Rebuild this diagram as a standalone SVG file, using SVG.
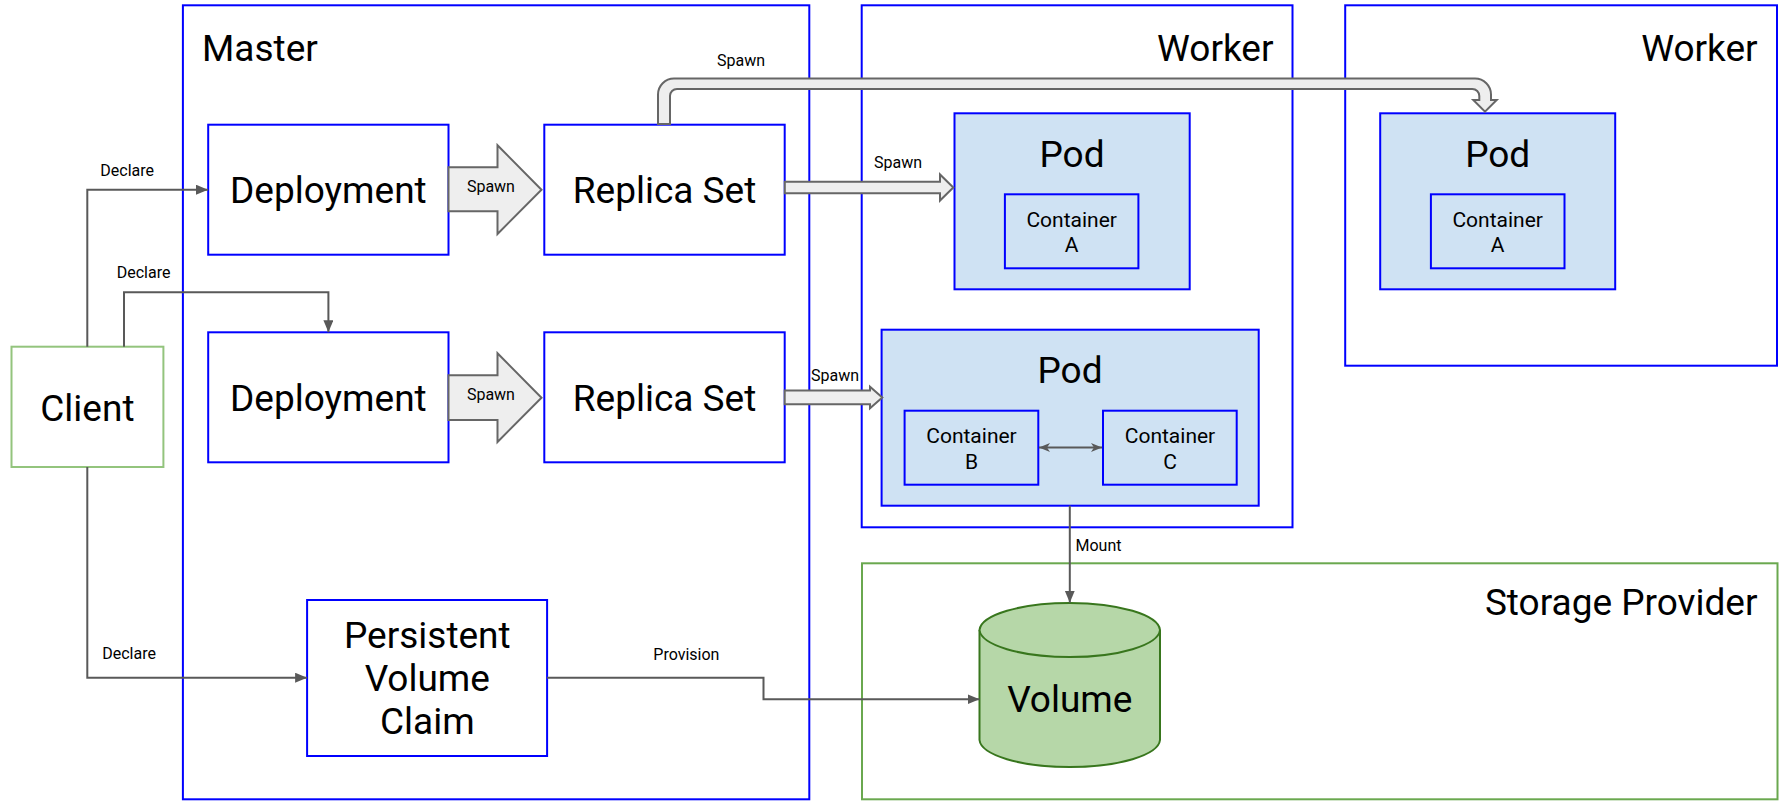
<svg xmlns="http://www.w3.org/2000/svg" width="1781" height="801" viewBox="0 0 1781 801">
<style>
text { font-family: Roboto, "Liberation Sans", sans-serif; fill: #000; }
.big { font-size: 37px; }
.mid { font-size: 21px; }
.small { font-size: 16px; }
.c { text-anchor: middle; }
.e { text-anchor: end; }
.box { fill: #fff; stroke: #0000ff; stroke-width: 2; }
.area { fill: none; stroke: #0000ff; stroke-width: 2; }
.pod { fill: #cfe2f3; stroke: #0000ff; stroke-width: 2; }
.garea { fill: none; stroke: #6aa84f; stroke-width: 2; }
.client { fill: #fff; stroke: #93c47d; stroke-width: 2; }
.line { fill: none; stroke: #595959; stroke-width: 2; }
.block { fill: #eeeeee; stroke: #666666; stroke-width: 2; stroke-linejoin: miter; }
.cyl { fill: #b6d7a8; stroke: #38761d; stroke-width: 2; }
</style>
<defs>
<marker id="arr" markerUnits="userSpaceOnUse" markerWidth="13" markerHeight="11" refX="12" refY="5" orient="auto">
<path d="M0,0 L12,5 L0,10 z" fill="#595959"/>
</marker>
<marker id="arr2" markerUnits="userSpaceOnUse" markerWidth="13" markerHeight="10" refX="11" refY="4.5" orient="auto-start-reverse">
<path d="M0,0 L11,4.5 L0,9 L3,4.5 z" fill="#595959"/>
</marker>
</defs>

<g id="master">
<rect class="area" x="182.9" y="5.3" width="626.4" height="794"/>
<text class="big" x="202" y="60.7">Master</text>
</g>
<g id="worker1">
<rect class="area" x="861.7" y="5.3" width="430.8" height="522"/>
<text class="big e" x="1273.5" y="60.7">Worker</text>
</g>
<g id="worker2">
<rect class="area" x="1345.2" y="5.3" width="431.8" height="360.4"/>
<text class="big e" x="1757.6" y="60.7">Worker</text>
</g>
<g id="storage">
<rect class="garea" x="862" y="563.3" width="915.5" height="236"/>
<text class="big e" x="1757.5" y="615">Storage Provider</text>
</g>

<g id="client">
<rect class="client" x="11.5" y="346.7" width="151.9" height="120.3"/>
<text class="big c" x="87.4" y="420.7">Client</text>
</g>
<g id="deployment1">
<rect class="box" x="208.2" y="124.7" width="240.3" height="130"/>
<text class="big c" x="328.4" y="203.3">Deployment</text>
</g>
<g id="deployment2">
<rect class="box" x="208.2" y="332.3" width="240.3" height="130"/>
<text class="big c" x="328.4" y="411">Deployment</text>
</g>
<g id="replicaset1">
<rect class="box" x="544.3" y="124.7" width="240.4" height="130"/>
<text class="big c" x="664.5" y="203.3">Replica Set</text>
</g>
<g id="replicaset2">
<rect class="box" x="544.3" y="332.3" width="240.4" height="130"/>
<text class="big c" x="664.5" y="411">Replica Set</text>
</g>
<g id="pvc">
<rect class="box" x="307.1" y="600" width="240" height="156"/>
<text class="big c" x="427.3" y="647.7">Persistent</text>
<text class="big c" x="427.3" y="691">Volume</text>
<text class="big c" x="427.3" y="734.3">Claim</text>
</g>
<g id="pod1">
<rect class="pod" x="954.5" y="113.3" width="235.2" height="176"/>
<text class="big c" x="1072" y="166.7">Pod</text>
</g>
<g id="pod1-containerA">
<rect class="pod" x="1004.9" y="194.3" width="133.5" height="74"/>
<text class="mid c" x="1071.7" y="226.7">Container</text>
<text class="mid c" x="1071.7" y="252.3">A</text>
</g>
<g id="pod2">
<rect class="pod" x="881.6" y="329.7" width="377.1" height="176"/>
<text class="big c" x="1070" y="383.3">Pod</text>
</g>
<g id="pod2-containerB">
<rect class="pod" x="904.6" y="410.7" width="133.7" height="74"/>
<text class="mid c" x="971.5" y="443.3">Container</text>
<text class="mid c" x="971.5" y="469">B</text>
</g>
<g id="pod2-containerC">
<rect class="pod" x="1103" y="410.7" width="133.7" height="74"/>
<text class="mid c" x="1170" y="443.3">Container</text>
<text class="mid c" x="1170" y="469">C</text>
</g>
<g id="pod3">
<rect class="pod" x="1380.2" y="113.3" width="235" height="176"/>
<text class="big c" x="1497.7" y="166.7">Pod</text>
</g>
<g id="pod3-containerA">
<rect class="pod" x="1430.9" y="194.3" width="133.6" height="74"/>
<text class="mid c" x="1497.7" y="226.7">Container</text>
<text class="mid c" x="1497.7" y="252.3">A</text>
</g>
<g id="volume">
<path class="cyl" d="M979.5,630 A90.3,28 0 0 1 1160,630 V740 A90.3,28 0 0 1 979.5,740 Z"/>
<path class="cyl" d="M979.5,630 A90.3,28 0 0 0 1160,630" fill="none"/>
<text class="big c" x="1069.8" y="712.3">Volume</text>
</g>

<g id="connectors">
<path class="line" d="M87.3,346.7 V189.7 H208" marker-end="url(#arr)"/>
<path class="line" d="M124,346.7 V292.3 H328.4 V332.3" marker-end="url(#arr)"/>
<path class="line" d="M87.3,467 V677.7 H307.1" marker-end="url(#arr)"/>
<path class="line" d="M547.1,677.7 H763.5 V699.3 H979.5" marker-end="url(#arr)"/>
<path class="line" d="M1069.8,505.7 V602.7" marker-end="url(#arr)"/>
<path class="line" d="M1039,447.5 H1102" marker-start="url(#arr2)" marker-end="url(#arr2)"/>
<polygon class="block" points="448.5,167.3 497.5,167.3 497.5,145.3 541.5,189.7 497.5,234 497.5,211.3 448.5,211.3"/>
<polygon class="block" points="448.5,375.3 497.5,375.3 497.5,353.3 541.5,397.7 497.5,442 497.5,420 448.5,420"/>
<polygon class="block" points="784.8,181.7 940,181.7 940,174.5 953.3,187.5 940,200.5 940,193.3 784.8,193.3"/>
<polygon class="block" points="784.7,390.5 870,390.5 870,386.7 882.3,397.5 870,408.3 870,404.3 784.7,404.3"/>
<path class="block" d="M658,124 V94.5 A16,16 0 0 1 674,78.5 H1475 A16,16 0 0 1 1491,94.5 V100 H1496.7 L1485,111.7 L1473.3,100 H1479.3 V96 A7,7 0 0 0 1472.3,89 H677 A7,7 0 0 0 670,96 V124 Z"/>
<text class="small" x="466.9" y="192.3">Spawn</text>
<text class="small" x="466.9" y="400.3">Spawn</text>
<text class="small" x="874" y="167.7">Spawn</text>
<text class="small" x="811" y="380.7">Spawn</text>
<text class="small" x="717" y="66">Spawn</text>
<text class="small" x="100.3" y="176">Declare</text>
<text class="small" x="116.7" y="278.3">Declare</text>
<text class="small" x="102.2" y="659.3">Declare</text>
<text class="small" x="653.3" y="660">Provision</text>
<text class="small" x="1075.5" y="550.7">Mount</text>
</g>
</svg>
